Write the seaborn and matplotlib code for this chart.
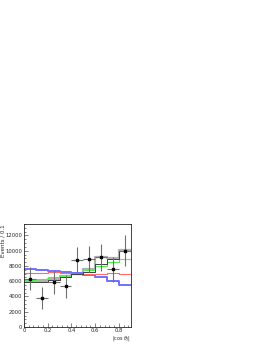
import numpy as np
import matplotlib
matplotlib.use("Agg")
import matplotlib.pyplot as plt
import seaborn as sns
from matplotlib.ticker import MultipleLocator

sns.set_style("ticks")
plt.rcParams['font.family'] = ['DejaVu Sans']

edges = [0.0, 0.1, 0.2, 0.3, 0.4, 0.5, 0.6, 0.7, 0.8, 0.9]
centers = [0.05, 0.15, 0.25, 0.35, 0.45, 0.55, 0.65, 0.75, 0.85]

data_y = [6350, 3800, 5850, 5350, 8800, 8950, 9150, 7550, 10000]
data_err = [1550, 1450, 1500, 1500, 1650, 1700, 1750, 1600, 2050]

model_red = [7050, 7100, 7150, 7100, 7000, 7000, 7000, 7050, 6950]
model_blue = [7600, 7420, 7300, 7150, 7030, 6800, 6500, 6080, 5560]
model_green = [6150, 6300, 6550, 6700, 6900, 7450, 8050, 8550, 8950]
model_dark = [5850, 5850, 6150, 6600, 6950, 7250, 8200, 8850, 10000]
model_gray = [6000, 6000, 6300, 6700, 7000, 7650, 9150, 9050, 10050]

fig = plt.figure(figsize=(2.66, 3.44), dpi=100)
ax = fig.add_axes([0.090, 0.0494, 0.402, 0.2994])

def hist(vals, color, lw):
    sns.histplot(x=centers, weights=vals, bins=edges, element="step", fill=False,
                 color=color, linewidth=lw, ax=ax)

hist(model_gray, "#b0b0b0", 1.6)
hist(model_blue, "#7070ff", 1.4)
hist(model_red, "#ff6b6b", 0.8)
hist(model_green, "#55ee55", 0.8)
hist(model_dark, "#404040", 0.7)

ax.errorbar(centers, data_y, yerr=data_err, xerr=0.05, fmt="s", color="black",
            ecolor="#707070", elinewidth=0.8, markersize=2, capsize=0)

ax.set_xlim(0, 0.9)
ax.set_ylim(0, 13500)
ax.xaxis.set_minor_locator(MultipleLocator(0.04))
ax.yaxis.set_major_locator(MultipleLocator(2000))
ax.yaxis.set_minor_locator(MultipleLocator(500))
ax.set_xticks([0, 0.2, 0.4, 0.6, 0.8])
ax.set_xticklabels(["0", "0.2", "0.4", "0.6", "0.8"])
ax.tick_params(which="both", direction="in", top=False, right=False, labelsize=3.8, pad=1.5)
ax.tick_params(axis="x", which="both", pad=0.8)
ax.tick_params(which="major", length=3, width=0.4)
ax.tick_params(which="minor", length=1.5, width=0.4)
for s in ax.spines.values():
    s.set_linewidth(0.6)
ax.set_ylabel("Events / 0.1", fontsize=4, loc="top")
ax.yaxis.set_label_coords(-0.175, 1.0)
ax.set_xlabel(r"|cos $\theta_J$|", fontsize=3.5, loc="right")
ax.xaxis.set_label_coords(1.0, -0.07)

fig.savefig("out.png", dpi=100)
